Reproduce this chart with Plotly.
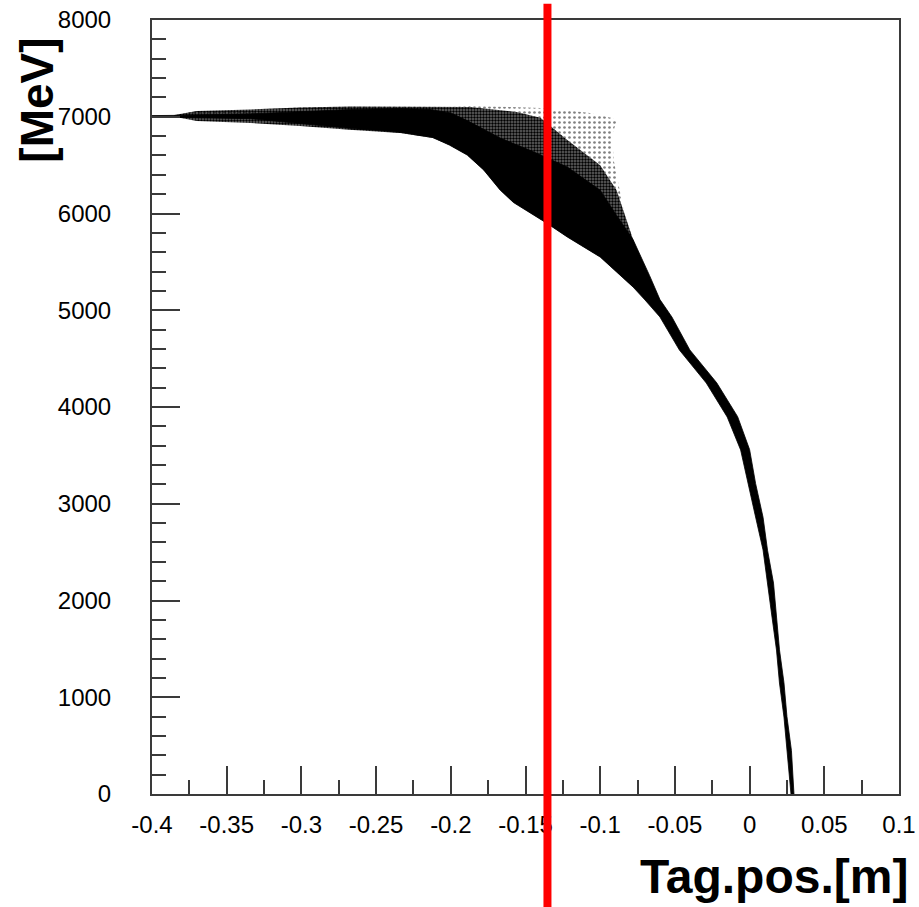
import plotly.graph_objects as go

# ---------------- data ----------------
# dense core of the scatter band: upper/right edge and lower/left edge
dense_top_x = [-0.400, -0.378, -0.334, -0.301, -0.267, -0.234, -0.214, -0.200, -0.189,
               -0.167, -0.145, -0.122, -0.100, -0.089, -0.078, -0.067, -0.060, -0.052,
               -0.040, -0.022, -0.008, 0.000, 0.004, 0.009, 0.012, 0.016, 0.018, 0.020,
               0.023, 0.025, 0.028, 0.0297]
dense_top_y = [7012, 7015, 7030, 7055, 7075, 7085, 7075, 7040, 6960,
               6780, 6640, 6480, 6240, 5980, 5730, 5360, 5110, 4930,
               4590, 4250, 3900, 3560, 3210, 2860, 2520, 2180, 1830, 1490,
               1150, 800, 450, 0]
dense_bot_x = [-0.400, -0.378, -0.334, -0.301, -0.268, -0.234, -0.212, -0.201, -0.189,
               -0.178, -0.167, -0.158, -0.145, -0.136, -0.122, -0.100, -0.078, -0.070,
               -0.060, -0.047, -0.029, -0.015, -0.006, -0.001, 0.004, 0.009, 0.012,
               0.015, 0.018, 0.020, 0.023, 0.025, 0.0277]
dense_bot_y = [6995, 6992, 6980, 6930, 6880, 6840, 6785, 6708, 6604,
               6450, 6243, 6113, 5985, 5902, 5757, 5550, 5240, 5106,
               4930, 4589, 4248, 3897, 3556, 3214, 2863, 2522, 2181,
               1829, 1488, 1147, 796, 455, 0]

# speckled (medium density) part of the band
mid_top_x = [-0.385, -0.370, -0.334, -0.301, -0.267, -0.234, -0.214, -0.187, -0.156,
             -0.140, -0.122, -0.100, -0.089, -0.082, -0.073, -0.067]
mid_top_y = [7018, 7060, 7075, 7095, 7105, 7105, 7105, 7100, 7050,
             6990, 6760, 6500, 6240, 5910, 5500, 5310]
mid_bot_x = [-0.385, -0.370, -0.334, -0.301, -0.268, -0.234, -0.212, -0.201, -0.189,
             -0.178, -0.167, -0.158, -0.145, -0.136, -0.122, -0.100, -0.078]
mid_bot_y = [7000, 6955, 6935, 6905, 6865, 6832, 6780, 6708, 6604,
             6450, 6243, 6113, 5985, 5902, 5757, 5550, 5240]

# sparse outer fringe (upper right of the band)
sparse_out_x = [-0.200, -0.187, -0.160, -0.140, -0.124, -0.107, -0.092, -0.089,
                -0.092, -0.091, -0.087, -0.083, -0.077, -0.070]
sparse_out_y = [7100, 7111, 7100, 7090, 7070, 7039, 6987, 6956,
                6811, 6553, 6243, 5933, 5623, 5364]

# vertical cut marker
tag_cut = -0.1353

x_tickvals = [-0.4, -0.35, -0.3, -0.25, -0.2, -0.15, -0.1, -0.05, 0, 0.05, 0.1]
x_ticktext = ["-0.4", "-0.35", "-0.3", "-0.25", "-0.2", "-0.15", "-0.1", "-0.05", "0", "0.05", "0.1"]
y_tickvals = [0, 1000, 2000, 3000, 4000, 5000, 6000, 7000, 8000]
y_ticktext = ["0", "1000", "2000", "3000", "4000", "5000", "6000", "7000", "8000"]

# ---------------- figure ----------------
fig = go.Figure()

# sparse fringe: outer edge then back along the medium edge
sx = sparse_out_x + mid_top_x[::-1]
sy = sparse_out_y + mid_top_y[::-1]
fig.add_trace(go.Scatter(
    x=sx, y=sy, mode="lines", fill="toself",
    line=dict(width=0), fillcolor="rgba(0,0,0,0)",
    fillpattern=dict(shape=".", fgcolor="black", bgcolor="rgba(0,0,0,0)",
                     size=5, solidity=0.22, fillmode="overlay"),
    hoverinfo="skip", showlegend=False))

# medium density
mx = mid_top_x + mid_bot_x[::-1]
my = mid_top_y + mid_bot_y[::-1]
fig.add_trace(go.Scatter(
    x=mx, y=my, mode="lines", fill="toself",
    line=dict(width=0), fillcolor="rgba(0,0,0,0)",
    fillpattern=dict(shape=".", fgcolor="black", bgcolor="rgba(0,0,0,0.6)",
                     size=3, solidity=0.5, fillmode="replace"),
    hoverinfo="skip", showlegend=False))

# dense core
dx = dense_top_x + dense_bot_x[::-1]
dy = dense_top_y + dense_bot_y[::-1]
fig.add_trace(go.Scatter(
    x=dx, y=dy, mode="lines", fill="toself",
    line=dict(width=0.8, color="black"), fillcolor="black",
    hoverinfo="skip", showlegend=False))

fig.add_shape(type="line", xref="x", yref="paper",
              x0=tag_cut, x1=tag_cut, y0=-0.147, y1=1.021,
              line=dict(color="#ff0000", width=8), layer="above")

tickfont = dict(family="Liberation Sans, Arial, sans-serif", size=24, color="black")
axis_common = dict(showgrid=False, zeroline=False, showline=True, mirror=True,
                   automargin=False,
                   linecolor="#3a3a3a", linewidth=2,
                   ticks="inside", ticklen=28, tickwidth=1.5, tickcolor="#3a3a3a",
                   tickfont=tickfont)

fig.update_xaxes(range=[-0.4, 0.1], tickmode="array", tickvals=x_tickvals,
                 ticktext=x_ticktext, ticklabelstandoff=8,
                 minor=dict(ticks="inside", ticklen=14, tickwidth=1.5, tickcolor="#3a3a3a",
                            tickmode="linear", tick0=-0.4, dtick=0.025),
                 **axis_common)
fig.update_yaxes(range=[0, 8000], tickmode="array", tickvals=y_tickvals,
                 ticktext=y_ticktext, ticklabelstandoff=34,
                 minor=dict(ticks="inside", ticklen=14, tickwidth=1.5, tickcolor="#3a3a3a",
                            tickmode="linear", tick0=0, dtick=200),
                 **axis_common)

fig.add_annotation(text="[MeV]", xref="paper", yref="paper", x=-0.154, y=0.897,
                   xanchor="center", yanchor="middle", textangle=-90,
                   showarrow=False,
                   font=dict(family="Liberation Sans, Arial, sans-serif", size=46,
                             color="black", weight="bold"))
fig.add_annotation(text="Tag.pos.[m]", xref="paper", yref="paper", x=1.0147, y=-0.106,
                   xanchor="right", yanchor="middle",
                   showarrow=False,
                   font=dict(family="Liberation Sans, Arial, sans-serif", size=48,
                             color="black", weight="bold"))

fig.update_layout(template="none", width=919, height=907,
                  margin=dict(l=152, r=20, t=20, b=113, pad=0, autoexpand=False),
                  paper_bgcolor="white", plot_bgcolor="white",
                  showlegend=False)

fig.write_html("out.html")
